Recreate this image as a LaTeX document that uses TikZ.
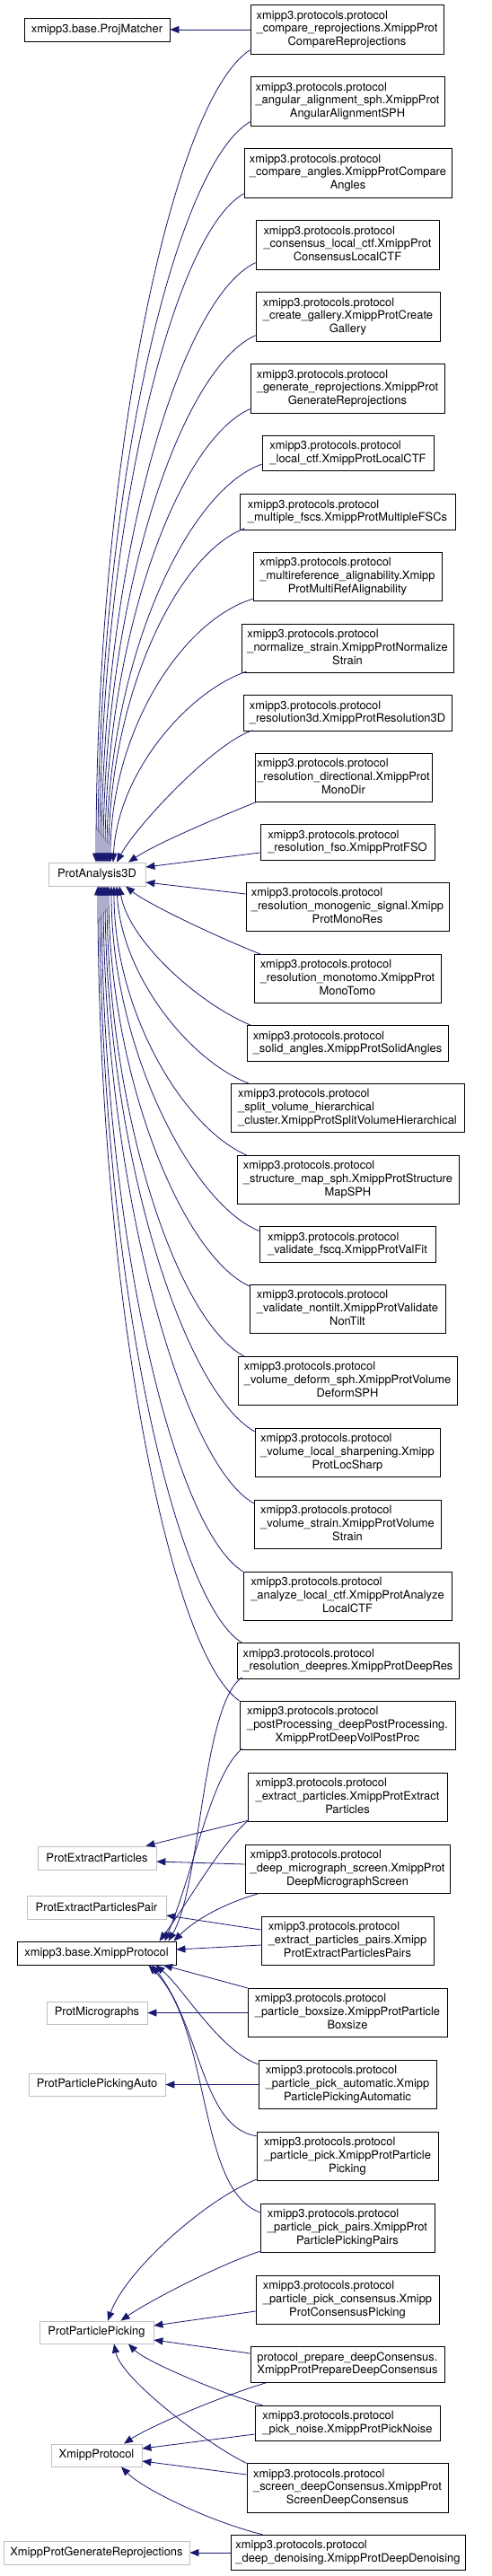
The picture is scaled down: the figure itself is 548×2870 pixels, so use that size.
\documentclass[tikz,border=0pt]{standalone}
\usepackage{fontspec}
\setmainfont{TeX Gyre Heros}
\usetikzlibrary{arrows.meta}
\definecolor{edgeblue}{HTML}{191970}
\definecolor{undoc}{HTML}{BFBFBF}
\newcommand{\dxfont}{\fontsize{12.9}{14.6}\selectfont}
\newcommand{\dxA}[1]{\begin{tabular}{@{}l@{}}xmipp3.protocols.protocol\\\multicolumn{1}{@{}c@{}}{#1}\end{tabular}}
\newcommand{\dxB}[2]{\begin{tabular}{@{}l@{}}xmipp3.protocols.protocol\\#1\\\multicolumn{1}{@{}c@{}}{#2}\end{tabular}}
\begin{document}
\begin{tikzpicture}[x=1pt,y=-1pt,
  doc/.style={draw=black, line width=0.8pt, fill=white, inner sep=0pt, font=\dxfont, text=black},
  und/.style={doc, draw=undoc},
  hA/.style={minimum height=26pt},
  hB/.style={minimum height=39.5pt},
  hC/.style={minimum height=54.5pt},
  inh/.style={draw=edgeblue, line width=0.8pt, -{Triangle[length=10pt,width=8pt]}}]
\fill[white] (0,0) rectangle (548,2870);
\useasboundingbox (0,0) rectangle (548,2870);

% parent classes
\node[doc,hA,minimum width=162pt] (pj) at (108,33) {xmipp3.base.ProjMatcher};
\node[und,hA,minimum width=108pt] (a3d) at (108,974) {ProtAnalysis3D};
\node[und,hA,minimum width=132pt] (pep) at (108,2070) {ProtExtractParticles};
\node[und,hA,minimum width=155pt] (pepp) at (107.5,2125) {ProtExtractParticlesPair};
\node[doc,hA,minimum width=177pt] (xp) at (107.5,2176) {xmipp3.base.XmippProtocol};
\node[und,minimum height=25pt,minimum width=112pt] (pmic) at (108,2242.5) {ProtMicrographs};
\node[und,minimum height=25pt,minimum width=152pt] (ppa) at (108,2322.5) {ProtParticlePickingAuto};
\node[und,minimum height=25pt,minimum width=127pt] (ppp) at (107.5,2598.5) {ProtParticlePicking};
\node[und,minimum height=25pt,minimum width=101pt] (xpg) at (107.5,2735.5) {XmippProtocol};
\node[und,hA,minimum width=207pt] (xpgr) at (107.5,2844) {XmippProtGenerateReprojections};

% derived classes
\node[doc,hC,minimum width=215pt] (c1) at (386.5,33) {\dxB{\_compare\_reprojections.XmippProt}{CompareReprojections}};
\node[doc,hC,minimum width=216pt] (c2) at (387,113) {\dxB{\_angular\_alignment\_sph.XmippProt}{AngularAlignmentSPH}};
\node[doc,hC,minimum width=231pt] (c3) at (387.5,193) {\dxB{\_compare\_angles.XmippProtCompare}{Angles}};
\node[doc,hC,minimum width=204pt] (c4) at (387,273) {\dxB{\_consensus\_local\_ctf.XmippProt}{ConsensusLocalCTF}};
\node[doc,hC,minimum width=205pt] (c5) at (387.5,353) {\dxB{\_create\_gallery.XmippProtCreate}{Gallery}};
\node[doc,hC,minimum width=216pt] (c6) at (387,433) {\dxB{\_generate\_reprojections.XmippProt}{GenerateReprojections}};
\node[doc,hB,minimum width=191pt] (c7) at (387.5,505) {\dxA{\_local\_ctf.XmippProtLocalCTF}};
\node[doc,hB,minimum width=240pt] (c8) at (387,570.5) {\dxA{\_multiple\_fscs.XmippProtMultipleFSCs}};
\node[doc,hC,minimum width=210pt] (c9) at (387,642.5) {\dxB{\_multireference\_alignability.Xmipp}{ProtMultiRefAlignability}};
\node[doc,hC,minimum width=236pt] (c10) at (387,722.5) {\dxB{\_normalize\_strain.XmippProtNormalize}{Strain}};
\node[doc,hB,minimum width=232pt] (c11) at (387,794.5) {\dxA{\_resolution3d.XmippProtResolution3D}};
\node[doc,hC,minimum width=197pt] (c12) at (382.5,866.5) {\dxB{\_resolution\_directional.XmippProt}{MonoDir}};
\node[doc,hB,minimum width=194pt] (c13) at (387,938.5) {\dxA{\_resolution\_fso.XmippProtFSO}};
\node[doc,hC,minimum width=226pt] (c14) at (387,1010.5) {\dxB{\_resolution\_monogenic\_signal.Xmipp}{ProtMonoRes}};
\node[doc,hC,minimum width=208pt] (c15) at (387,1090.5) {\dxB{\_resolution\_monotomo.XmippProt}{MonoTomo}};
\node[doc,hB,minimum width=224pt] (c16) at (387,1162.5) {\dxA{\_solid\_angles.XmippProtSolidAngles}};
\node[doc,hC,minimum width=260pt] (c17) at (387,1234.5) {\dxB{\_split\_volume\_hierarchical}{\_cluster.XmippProtSplitVolumeHierarchical}};
\node[doc,hC,minimum width=247pt] (c18) at (387.5,1314.5) {\dxB{\_structure\_map\_sph.XmippProtStructure}{MapSPH}};
\node[doc,hB,minimum width=196pt] (c19) at (387,1386.5) {\dxA{\_validate\_fscq.XmippProtValFit}};
\node[doc,hC,minimum width=218pt] (c20) at (387,1458.5) {\dxB{\_validate\_nontilt.XmippProtValidate}{NonTilt}};
\node[doc,hC,minimum width=244pt] (c21) at (387,1538.5) {\dxB{\_volume\_deform\_sph.XmippProtVolume}{DeformSPH}};
\node[doc,hC,minimum width=206pt] (c22) at (387,1618.5) {\dxB{\_volume\_local\_sharpening.Xmipp}{ProtLocSharp}};
\node[doc,hC,minimum width=208pt] (c23) at (387,1698.5) {\dxB{\_volume\_strain.XmippProtVolume}{Strain}};
\node[doc,hC,minimum width=232pt] (c24) at (387,1778.5) {\dxB{\_analyze\_local\_ctf.XmippProtAnalyze}{LocalCTF}};
\node[doc,hB,minimum width=247pt] (c25) at (387.5,1850.5) {\dxA{\_resolution\_deepres.XmippProtDeepRes}};
\node[doc,hC,minimum width=240pt] (c26) at (387,1922.5) {\dxB{\_postProcessing\_deepPostProcessing.}{XmippProtDeepVolPostProc}};
\node[doc,hC,minimum width=222pt] (c27) at (387,2002.5) {\dxB{\_extract\_particles.XmippProtExtract}{Particles}};
\node[doc,hC,minimum width=228pt] (c28) at (387,2082.5) {\dxB{\_deep\_micrograph\_screen.XmippProt}{DeepMicrographScreen}};
\node[doc,hC,minimum width=192pt] (c29) at (387,2162.5) {\dxB{\_extract\_particles\_pairs.Xmipp}{ProtExtractParticlesPairs}};
\node[doc,hC,minimum width=222pt] (c30) at (387,2242.5) {\dxB{\_particle\_boxsize.XmippProtParticle}{Boxsize}};
\node[doc,hC,minimum width=198pt] (c31) at (387,2322.5) {\dxB{\_particle\_pick\_automatic.Xmipp}{ParticlePickingAutomatic}};
\node[doc,hC,minimum width=202pt] (c32) at (387,2402.5) {\dxB{\_particle\_pick.XmippProtParticle}{Picking}};
\node[doc,hC,minimum width=194pt] (c33) at (387,2482.5) {\dxB{\_particle\_pick\_pairs.XmippProt}{ParticlePickingPairs}};
\node[doc,hC,minimum width=204pt] (c34) at (387,2562.5) {\dxB{\_particle\_pick\_consensus.Xmipp}{ProtConsensusPicking}};
\node[doc,hB,minimum width=216pt] (c35) at (387,2634.5) {\begin{tabular}{@{}l@{}}protocol\_prepare\_deepConsensus.\\\multicolumn{1}{@{}c@{}}{XmippProtPrepareDeepConsensus}\end{tabular}};
\node[doc,hB,minimum width=206pt] (c36) at (387,2700) {\dxA{\_pick\_noise.XmippProtPickNoise}};
\node[doc,hC,minimum width=224pt] (c37) at (387,2772) {\dxB{\_screen\_deepConsensus.XmippProt}{ScreenDeepConsensus}};
\node[doc,hB,minimum width=261pt] (c38) at (387.5,2844) {\dxA{\_deep\_denoising.XmippProtDeepDenoising}};

% ProjMatcher
\draw[inh] (c1.west) -- (pj.east);

% ProtAnalysis3D, children above
\draw[inh] ([yshift=5pt]c1.south west) .. controls +(-86,55) and +(0,-450) .. ([xshift=-1pt]a3d.north);
\draw[inh] ([yshift=5pt]c2.south west) .. controls +(-85,50) and +(0,-410) .. ([xshift=1pt]a3d.north);
\draw[inh] ([yshift=5pt]c3.south west) .. controls +(-80,45) and +(0,-370) .. ([xshift=3pt]a3d.north);
\draw[inh] ([yshift=8pt]c4.south west) .. controls +(-85,40) and +(0,-330) .. ([xshift=5pt]a3d.north);
\draw[inh] ([yshift=7pt]c5.south west) .. controls +(-85,38) and +(0,-290) .. ([xshift=7pt]a3d.north);
\draw[inh] ([yshift=5pt]c6.south west) .. controls +(-80,35) and +(0,-250) .. ([xshift=9pt]a3d.north);
\draw[inh] ([yshift=8pt]c7.south west) .. controls +(-85,30) and +(0,-220) .. ([xshift=11pt]a3d.north);
\draw[inh] ([xshift=6pt,yshift=2pt]c8.south west) .. controls +(-75,28) and +(0,-185) .. ([xshift=13pt]a3d.north);
\draw[inh] ([yshift=3pt]c9.south west) .. controls +(-80,25) and +(0,-145) .. ([xshift=15pt]a3d.north);
\draw[inh] ([xshift=6pt,yshift=2pt]c10.south west) .. controls +(-65,22) and +(5,-100) .. ([xshift=18pt]a3d.north);
\draw[inh] ([xshift=11pt,yshift=1pt]c11.south west) .. controls +(-42,13) and +(22,-41) .. ([xshift=22pt]a3d.north);
\draw[inh] ([xshift=3pt,yshift=1pt]c12.south west) .. controls +(-50,20) and +(30,-20) .. ([xshift=35pt]a3d.north);
\draw[inh] ([yshift=-11.5pt]c13.west) -- ([yshift=8pt]a3d.east);
\draw[inh] ([yshift=14.5pt]c14.west) -- ([yshift=-9pt]a3d.east);

% ProtAnalysis3D, children below
\draw[inh] ([xshift=7pt]c15.north west) .. controls +(-50,-20) and +(25,20) .. ([xshift=32pt]a3d.south);
\draw[inh] ([xshift=5pt]c16.north west) .. controls +(-60,-25) and +(10,60) .. ([xshift=25pt]a3d.south);
\draw[inh] ([xshift=20pt]c17.north west) .. controls +(-65,-25) and +(5,100) .. ([xshift=22pt]a3d.south);
\draw[inh] ([xshift=11pt]c18.north west) .. controls +(-70,-30) and +(0,140) .. ([xshift=19pt]a3d.south);
\draw[inh] ([yshift=-5pt]c19.north west) .. controls +(-75,-30) and +(0,180) .. ([xshift=16pt]a3d.south);
\draw[inh] ([yshift=-2pt]c20.north west) .. controls +(-75,-35) and +(0,210) .. ([xshift=13pt]a3d.south);
\draw[inh] ([xshift=7pt]c21.north west) .. controls +(-75,-40) and +(0,250) .. ([xshift=11pt]a3d.south);
\draw[inh] ([yshift=-4pt]c22.north west) .. controls +(-80,-45) and +(0,290) .. ([xshift=9pt]a3d.south);
\draw[inh] ([yshift=-4pt]c23.north west) .. controls +(-80,-45) and +(0,330) .. ([xshift=7pt]a3d.south);
\draw[inh] (c24.north west) .. controls +(-80,-50) and +(0,370) .. ([xshift=5pt]a3d.south);
\draw[inh] ([xshift=6pt]c25.north west) .. controls +(-80,-50) and +(0,410) .. ([xshift=3pt]a3d.south);
\draw[inh] (c26.north west) .. controls +(-80,-55) and +(0,440) .. ([xshift=1pt]a3d.south);

% xmipp3.base.XmippProtocol
\draw[inh] ([xshift=6pt,yshift=2pt]c25.south west) .. controls +(-45,32) and +(37,-63) .. ([xshift=80pt]xp.north);
\draw[inh] ([xshift=3pt,yshift=2pt]c26.south west) .. controls +(-35,30) and +(33,-80) .. ([xshift=76pt]xp.north);
\draw[inh] ([xshift=1pt,yshift=2pt]c27.south west) .. controls +(-30,25) and +(30,-40) .. ([xshift=70pt]xp.north);
\draw[inh] ([xshift=14pt]c28.south west) .. controls +(-35,10) and +(25,-25) .. ([xshift=86pt]xp.north);
\draw[inh] ([yshift=-4.5pt]c29.west) -- ([yshift=4pt]xp.east);
\draw[inh] (c30.north west) -- ([xshift=74.5pt]xp.south);
\draw[inh] ([yshift=-5pt]c31.north west) .. controls +(-43,-15) and +(31,26) .. ([xshift=66pt]xp.south);
\draw[inh] ([yshift=-5pt]c32.north west) .. controls +(-61,-10) and +(55,71) .. ([xshift=62pt]xp.south);
\draw[inh] ([yshift=-10pt]c33.north west) .. controls +(-70,-25) and +(70,71) .. ([xshift=58pt]xp.south);

% other parents
\draw[inh] ([xshift=1pt,yshift=2pt]c27.south west) -- ([xshift=-12pt]pep.north east);
\draw[inh] ([yshift=5.5pt]c28.west) -- ([yshift=-4pt]pep.east);
\draw[inh] ([yshift=12.5pt]c29.west) -- ([yshift=-9pt]pepp.east);
\draw[inh] (c30.west) -- (pmic.east);
\draw[inh] (c31.west) -- (ppa.east);

% ProtParticlePicking
\draw[inh] ([yshift=2pt]c32.south west) .. controls +(-56,22) and +(20,-56) .. ([xshift=12.5pt]ppp.north);
\draw[inh] ([yshift=2pt]c33.south west) .. controls +(-50,17) and +(30,-21) .. ([xshift=27pt]ppp.north);
\draw[inh] ([yshift=-12.5pt]c34.west) -- ([yshift=7.5pt]ppp.east);
\draw[inh] ([yshift=12.5pt]c35.west) -- ([yshift=-8.5pt]ppp.east);
\draw[inh] ([xshift=9pt]c36.north west) .. controls +(-50,-15) and +(20,20) .. ([xshift=35.5pt]ppp.south);
\draw[inh] (c37.north west) .. controls +(-45,-22) and +(8,39) .. ([xshift=19.5pt]ppp.south);

% XmippProtocol
\draw[inh] ([xshift=18pt]c35.south west) .. controls +(-50,15) and +(30,-20) .. ([xshift=30.5pt]xpg.north);
\draw[inh] ([yshift=-12pt]c36.west) -- ([yshift=7.5pt]xpg.east);
\draw[inh] ([yshift=15pt]c37.west) -- ([yshift=-6.5pt]xpg.east);
\draw[inh] ([xshift=36pt]c38.north west) .. controls +(-60,-15) and +(25,25) .. ([xshift=27.5pt]xpg.south);

% XmippProtGenerateReprojections
\draw[inh] (c38.west) -- (xpgr.east);
\end{tikzpicture}
\end{document}
